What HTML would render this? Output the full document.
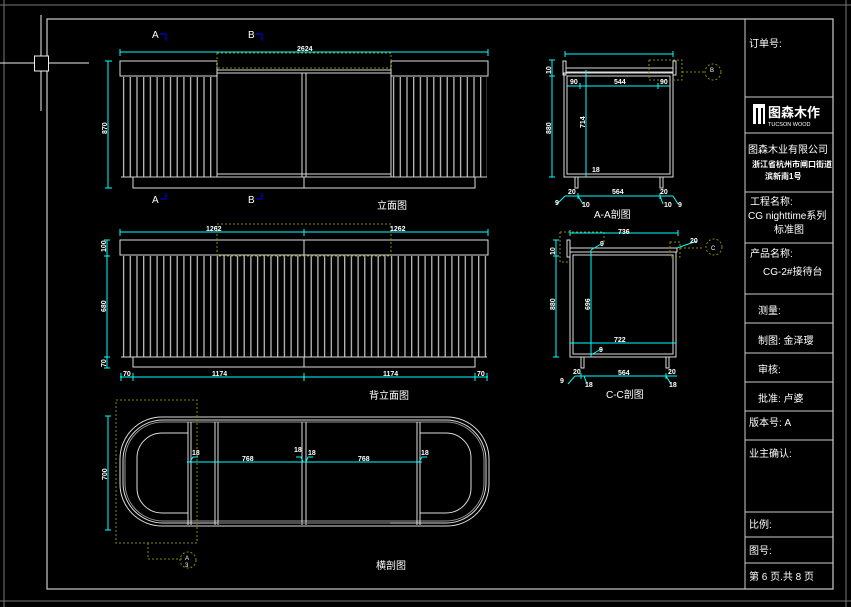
<!DOCTYPE html>
<html><head><meta charset="utf-8"><style>
html,body{margin:0;padding:0;background:#000;}
svg{display:block;}
text{font-family:"Liberation Sans","Noto Sans CJK SC",sans-serif;fill:#fff;}
.t{font-size:10px;}
.d{font-size:7px;font-weight:bold;fill:#fff;}
</style></head><body>
<svg width="851" height="607" viewBox="0 0 851 607" xmlns="http://www.w3.org/2000/svg">
<defs>
<pattern id="sl" x="121" y="0" width="6.7" height="10" patternUnits="userSpaceOnUse">
<rect x="2" y="0" width="1.2" height="10" fill="#c8c8c8"/>
</pattern>
<pattern id="sl2" x="391" y="0" width="6.7" height="10" patternUnits="userSpaceOnUse">
<rect x="2" y="0" width="1.2" height="10" fill="#c8c8c8"/>
</pattern>
</defs>
<line x1="0" y1="5" x2="851" y2="5" stroke="#777" stroke-width="1"/>
<line x1="4" y1="0" x2="4" y2="607" stroke="#777" stroke-width="1"/>
<line x1="846" y1="0" x2="846" y2="607" stroke="#777" stroke-width="1"/>
<line x1="0" y1="601" x2="851" y2="601" stroke="#777" stroke-width="1"/>
<rect x="47" y="19" width="786" height="570" fill="none" stroke="#ccc" stroke-width="1.2"/>
<line x1="0" y1="63" x2="89" y2="63" stroke="#eee"/>
<line x1="41" y1="15" x2="41" y2="111" stroke="#eee"/>
<rect x="34.5" y="56" width="14" height="15" fill="#000" stroke="#eee"/>
<g stroke="#ccc" stroke-width="1">
<line x1="745" y1="19" x2="745" y2="589"/>
<line x1="745" y1="97" x2="833" y2="97"/>
<line x1="745" y1="133" x2="833" y2="133"/>
<line x1="745" y1="192" x2="833" y2="192"/>
<line x1="745" y1="243" x2="833" y2="243"/>
<line x1="745" y1="294" x2="833" y2="294"/>
<line x1="745" y1="323" x2="833" y2="323"/>
<line x1="745" y1="353" x2="833" y2="353"/>
<line x1="745" y1="382" x2="833" y2="382"/>
<line x1="745" y1="411" x2="833" y2="411"/>
<line x1="745" y1="440" x2="833" y2="440"/>
<line x1="745" y1="512" x2="833" y2="512"/>
<line x1="745" y1="537" x2="833" y2="537"/>
<line x1="745" y1="563" x2="833" y2="563"/>
</g>
<text x="749" y="47" class="t">订单号:</text>
<rect x="753" y="104" width="12" height="20" fill="#fff"/>
<rect x="756" y="108" width="2" height="16" fill="#000"/>
<rect x="761" y="108" width="2" height="16" fill="#000"/>
<text x="768" y="117" style="font-size:13px;font-weight:bold">图森木作</text>
<text x="768" y="126" style="font-size:5.5px">TUCSON WOOD</text>
<text x="748" y="153" style="font-size:10px">图森木业有限公司</text>
<text x="752" y="167" style="font-size:8px;font-weight:bold">浙江省杭州市闸口街道</text>
<text x="765" y="179" style="font-size:8px;font-weight:bold">滨新南1号</text>
<text x="750" y="205" class="t">工程名称:</text>
<text x="748" y="219" class="t">CG nighttime系列</text>
<text x="774" y="233" class="t">标准图</text>
<text x="750" y="257" class="t">产品名称:</text>
<text x="763" y="275" class="t">CG-2#接待台</text>
<text x="758" y="314" class="t">测量:</text>
<text x="758" y="344" class="t">制图: 金泽璎</text>
<text x="758" y="373" class="t">审核:</text>
<text x="758" y="402" class="t">批准: 卢婆</text>
<text x="749" y="426" class="t">版本号:  A</text>
<text x="749" y="457" class="t">业主确认:</text>
<text x="749" y="528" class="t">比例:</text>
<text x="749" y="554" class="t">图号:</text>
<text x="749" y="580" class="t">第 6 页.共 8 页</text>

<g stroke="#ddd" stroke-width="1" fill="none">
<rect x="120" y="61" width="97" height="15"/>
<rect x="391" y="61" width="97" height="15"/>
<line x1="217" y1="70" x2="391" y2="70"/><line x1="217" y1="73" x2="391" y2="73"/>
<rect x="217" y="73" width="174" height="104"/>
<line x1="302" y1="73" x2="302" y2="177"/><line x1="306" y1="73" x2="306" y2="177"/>
<line x1="217" y1="174" x2="391" y2="174"/>
<rect x="133" y="177" width="342" height="11"/>
<line x1="304" y1="177" x2="304" y2="188"/>
</g>
<rect x="121" y="77" width="96" height="100" fill="url(#sl)"/>
<rect x="391" y="77" width="96" height="100" fill="url(#sl2)"/>
<line x1="121" y1="177" x2="487" y2="177" stroke="#ccc"/>
<rect x="217" y="53" width="174" height="15" fill="none" stroke="#8a8a00" stroke-dasharray="2,2"/>
<g stroke="#0ff" stroke-width="1">
<line x1="120" y1="52" x2="488" y2="52"/><line x1="120" y1="49" x2="120" y2="56"/><line x1="488" y1="49" x2="488" y2="56"/>
<line x1="108" y1="61" x2="108" y2="188"/><line x1="105" y1="61" x2="112" y2="61"/><line x1="105" y1="188" x2="112" y2="188"/>
</g>
<text x="297" y="51" class="d">2624</text>
<text transform="translate(107,134) rotate(-90)" class="d">870</text>
<text x="152" y="38" class="t">A</text><path d="M160 34h6v7" stroke="#00f" fill="none"/>
<text x="248" y="38" class="t">B</text><path d="M256 34h6v7" stroke="#00f" fill="none"/>
<text x="152" y="203" class="t">A</text><path d="M160 199h6v-6" stroke="#00f" fill="none"/>
<text x="248" y="203" class="t">B</text><path d="M256 199h6v-6" stroke="#00f" fill="none"/>
<text x="377" y="209" class="t">立面图</text>

<g stroke="#ddd" stroke-width="1" fill="none">
<rect x="120" y="240" width="368" height="15"/>
<line x1="304" y1="240" x2="304" y2="255"/>
<rect x="133" y="357" width="342" height="10"/>
<line x1="304" y1="357" x2="304" y2="367"/>
<line x1="121" y1="357" x2="487" y2="357"/>
</g>
<rect x="121" y="256" width="366" height="101" fill="url(#sl)"/>
<rect x="217" y="224" width="174" height="32" fill="none" stroke="#8a8a00" stroke-dasharray="2,2"/>
<g stroke="#0ff" stroke-width="1">
<line x1="120" y1="232" x2="488" y2="232"/><line x1="120" y1="229" x2="120" y2="236"/><line x1="304" y1="229" x2="304" y2="236"/><line x1="488" y1="229" x2="488" y2="236"/>
<line x1="107" y1="240" x2="107" y2="368"/><line x1="104" y1="240" x2="110" y2="240"/><line x1="104" y1="256" x2="110" y2="256"/><line x1="104" y1="357" x2="110" y2="357"/><line x1="104" y1="368" x2="110" y2="368"/>
<line x1="120" y1="377" x2="488" y2="377"/>
<line x1="121" y1="373" x2="121" y2="381"/><line x1="133" y1="373" x2="133" y2="381"/><line x1="304" y1="373" x2="304" y2="381"/><line x1="475" y1="373" x2="475" y2="381"/><line x1="487" y1="373" x2="487" y2="381"/>
</g>
<text x="206" y="231" class="d">1262</text><text x="390" y="231" class="d">1262</text>
<text x="123" y="376" class="d">70</text><text x="212" y="376" class="d">1174</text><text x="383" y="376" class="d">1174</text><text x="477" y="376" class="d">70</text>
<text transform="translate(106,252) rotate(-90)" class="d">100</text>
<text transform="translate(106,312) rotate(-90)" class="d">680</text>
<text transform="translate(106,367) rotate(-90)" class="d">70</text>
<text x="369" y="399" class="t">背立面图</text>

<g stroke="#ddd" stroke-width="1" fill="none">
<rect x="120" y="417" width="369" height="109" rx="42"/>
<rect x="123" y="420" width="363" height="103" rx="40"/>
<rect x="125" y="422" width="359" height="99" rx="38" stroke="#999"/>
<path d="M188 433H162a25 25 0 0 0 -25 25v30a25 25 0 0 0 25 25H188"/>
<path d="M420 433H446a25 25 0 0 1 25 25v30a25 25 0 0 1 -25 25H420"/>
<line x1="188" y1="422" x2="188" y2="525"/><line x1="191" y1="422" x2="191" y2="525"/>
<line x1="215" y1="422" x2="215" y2="525"/><line x1="218" y1="422" x2="218" y2="525"/>
<line x1="302" y1="422" x2="302" y2="525"/><line x1="306" y1="422" x2="306" y2="525"/>
<line x1="417" y1="422" x2="417" y2="525"/><line x1="420" y1="422" x2="420" y2="525"/>
<line x1="218" y1="523" x2="390" y2="523" stroke="#999"/>
</g>
<rect x="116" y="400" width="81" height="143" fill="none" stroke="#8a8a00" stroke-dasharray="2,2"/>
<path d="M148 543v16h36" stroke="#8a8a00" fill="none" stroke-dasharray="2,2"/>
<circle cx="188" cy="560" r="8" fill="none" stroke="#8a8a00" stroke-dasharray="2,2"/>
<text x="185" y="560" style="font-size:6px">A</text><text x="185" y="567" style="font-size:6px">3</text>
<g stroke="#0ff" stroke-width="1">
<line x1="187" y1="462" x2="422" y2="462"/>
<line x1="108" y1="416" x2="108" y2="530"/><line x1="105" y1="416" x2="111" y2="416"/><line x1="105" y1="530" x2="111" y2="530"/>
<path d="M190 462l3-5h5M303 462l-2-5h-5M306 462l2-5h5M419 462l3-5h5" fill="none"/>
</g>
<text x="192" y="455" class="d">18</text><text x="242" y="461" class="d">768</text><text x="294" y="452" class="d">18</text><text x="308" y="455" class="d">18</text><text x="358" y="461" class="d">768</text><text x="421" y="455" class="d">18</text>
<text transform="translate(107,480) rotate(-90)" class="d">700</text>
<text x="376" y="569" class="t">横剖图</text>

<g stroke="#ddd" stroke-width="1" fill="none">
<rect x="563" y="61" width="3" height="14"/>
<rect x="673" y="61" width="3" height="14"/>
<line x1="566" y1="68" x2="673" y2="68"/><line x1="566" y1="72" x2="673" y2="72"/>
<rect x="564" y="73" width="109" height="104"/>
<rect x="567" y="76" width="103" height="98"/>
<rect x="575" y="177" width="3" height="11"/><rect x="660" y="177" width="3" height="11"/>
</g>
<rect x="649" y="60" width="33" height="20" fill="none" stroke="#8a8a00" stroke-dasharray="2,2"/>
<path d="M682 72h22" stroke="#8a8a00" stroke-dasharray="2,2"/>
<circle cx="713" cy="72" r="8" fill="none" stroke="#8a8a00" stroke-dasharray="2,2"/>
<text x="710" y="72" style="font-size:6px">B</text>
<g stroke="#0ff" stroke-width="1">
<line x1="565" y1="54" x2="673" y2="54"/><line x1="565" y1="51" x2="565" y2="57"/><line x1="673" y1="51" x2="673" y2="57"/>
<line x1="552" y1="60" x2="552" y2="177"/><line x1="549" y1="60" x2="555" y2="60"/><line x1="549" y1="76" x2="555" y2="76"/><line x1="549" y1="177" x2="555" y2="177"/>
<line x1="586" y1="70" x2="586" y2="177"/>
<line x1="567" y1="86" x2="670" y2="86"/><line x1="580" y1="83" x2="580" y2="89"/><line x1="658" y1="83" x2="658" y2="89"/>
<line x1="565" y1="196" x2="673" y2="196"/><line x1="578" y1="193" x2="578" y2="199"/><line x1="660" y1="193" x2="660" y2="199"/>
<path d="M565 196l-8 8M578 196l5 8M660 196l3 8M673 196l5 8" fill="none"/>
</g>
<text x="570" y="84" class="d">90</text><text x="614" y="84" class="d">544</text><text x="660" y="84" class="d">90</text>
<text x="612" y="194" class="d">564</text><text x="568" y="194" class="d">20</text><text x="660" y="194" class="d">20</text>
<text x="582" y="207" class="d">10</text><text x="664" y="207" class="d">10</text><text x="555" y="205" class="d">9</text><text x="678" y="207" class="d">9</text>
<text transform="translate(551,134) rotate(-90)" class="d">880</text>
<text transform="translate(585,128) rotate(-90)" class="d">714</text>
<text transform="translate(551,74) rotate(-90)" class="d">10</text>
<text x="592" y="172" class="d">18</text>
<text x="594" y="218" class="t">A-A剖图</text>

<g stroke="#ddd" stroke-width="1" fill="none">
<rect x="567" y="240" width="3" height="17"/>
<line x1="570" y1="248" x2="677" y2="248"/><line x1="570" y1="252" x2="677" y2="252"/>
<line x1="677" y1="248" x2="677" y2="252"/>
<rect x="570" y="252" width="106" height="105"/>
<rect x="573" y="255" width="100" height="99"/>
<rect x="581" y="357" width="3" height="11"/><rect x="666" y="357" width="3" height="11"/>
</g>
<path d="M560 232h44v10M560 232v30h8" fill="none" stroke="#8a8a00" stroke-dasharray="2,2"/>
<rect x="670" y="242" width="10" height="15" fill="none" stroke="#8a8a00" stroke-dasharray="2,2"/>
<path d="M680 248h24" stroke="#8a8a00" stroke-dasharray="2,2"/>
<circle cx="714" cy="247" r="8" fill="none" stroke="#8a8a00" stroke-dasharray="2,2"/>
<text x="711" y="250" style="font-size:6px">C</text>
<g stroke="#0ff" stroke-width="1">
<line x1="570" y1="233" x2="678" y2="233"/><line x1="570" y1="230" x2="570" y2="236"/><line x1="678" y1="230" x2="678" y2="236"/>
<line x1="556" y1="240" x2="556" y2="357"/><line x1="553" y1="240" x2="559" y2="240"/><line x1="553" y1="256" x2="559" y2="256"/><line x1="553" y1="357" x2="559" y2="357"/>
<line x1="591" y1="250" x2="591" y2="357"/>
<line x1="570" y1="343" x2="676" y2="343"/>
<line x1="575" y1="376" x2="677" y2="376"/><line x1="581" y1="373" x2="581" y2="379"/><line x1="666" y1="373" x2="666" y2="379"/>
<path d="M575 376l-7 8M584 376l3 8M666 376l5 8M677 248l20-7M591 250l10-6M591 355l10-6" fill="none"/>
</g>
<text x="618" y="234" class="d">736</text><text x="614" y="342" class="d">722</text><text x="618" y="375" class="d">564</text>
<text x="573" y="374" class="d">20</text><text x="668" y="374" class="d">20</text>
<text x="585" y="387" class="d">18</text><text x="669" y="387" class="d">18</text><text x="560" y="383" class="d">9</text>
<text x="600" y="246" class="d">9</text><text x="599" y="352" class="d">9</text><text x="690" y="243" class="d">20</text>
<text transform="translate(555,310) rotate(-90)" class="d">880</text>
<text transform="translate(590,310) rotate(-90)" class="d">696</text>
<text transform="translate(555,255) rotate(-90)" class="d">10</text>
<text x="606" y="398" class="t">C-C剖图</text>
</svg>
</body></html>
